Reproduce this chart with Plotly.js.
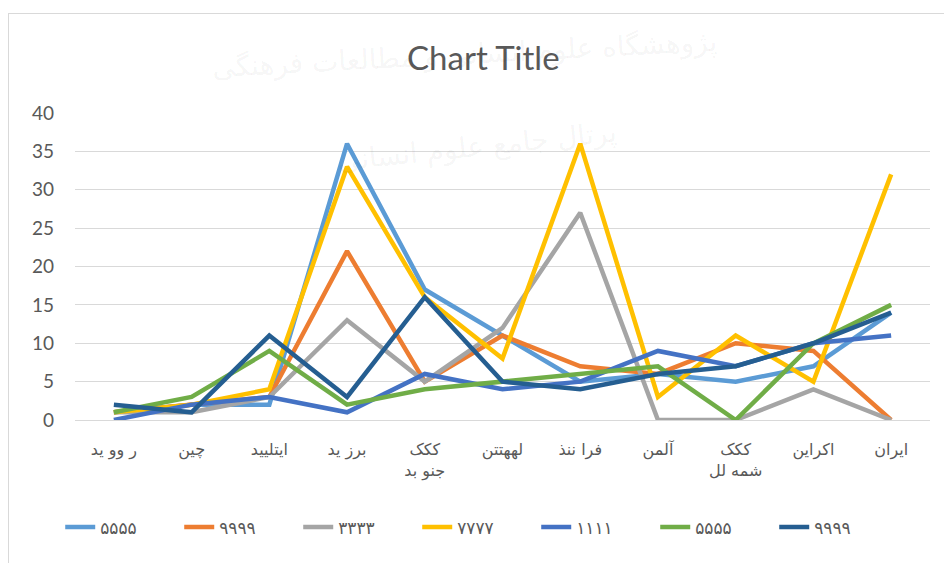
<!DOCTYPE html>
<html>
<head>
<meta charset="utf-8">
<script src="https://cdn.plot.ly/plotly-3.0.1.min.js"></script>
<style>
  html, body { margin: 0; padding: 0; background: #ffffff; }
  #wrap { position: relative; width: 944px; height: 563px; overflow: hidden; }
  #chart { width: 944px; height: 563px; }
  #frame { position: absolute; left: 8px; top: 13px; width: 950px; height: 560px;
           border: 1px solid #D9D9D9; pointer-events: none; box-sizing: border-box; }
</style>
</head>
<body>
<div id="wrap">
  <div id="chart"></div>
  <div id="frame"></div>
</div>
<script>
// Categories (x-axis labels, as shown in the reference)
const categories = [
  "ر وو ید",
  "چین",
  "ایتلیید",
  "برز ید",
  "ککک<br>جنو بد",
  "لهھتتن",
  "فرا ننذ",
  "آلمن",
  "ککک<br>شمه لل",
  "اکراین",
  "ایران"
];

// Series names (legend)
const seriesNames = ["۵۵۵۵", "۹۹۹۹", "۳۳۳۳", "۷۷۷۷", "۱۱۱۱", "۵۵۵۵", "۹۹۹۹"];

// Series values
const s1 = [1, 2, 2, 36, 17, 11, 5, 6, 5, 7, 14];    // light blue
const s2 = [1, 2, 3, 22, 5, 11, 7, 6, 10, 9, 0];     // orange
const s3 = [1, 1, 3, 13, 5, 12, 27, 0, 0, 4, 0];     // grey
const s4 = [1, 2, 4, 33, 16, 8, 36, 3, 11, 5, 32];   // yellow
const s5 = [0, 2, 3, 1, 6, 4, 5, 9, 7, 10, 11];      // blue
const s6 = [1, 3, 9, 2, 4, 5, 6, 7, 0, 10, 15];      // green
const s7 = [2, 1, 11, 3, 16, 5, 4, 6, 7, 10, 14];    // dark blue

const seriesValues = [s1, s2, s3, s4, s5, s6, s7];
const seriesColors = ["#5B9BD5", "#ED7D31", "#A5A5A5", "#FFC000", "#4472C4", "#70AD47", "#255E91"];

// Faint watermark texts seen behind the reference chart
const watermarkTexts = ["پژوهشگاه علوم انسانی و مطالعات فرهنگی", "پرتال جامع علوم انسانی"];

const traces = seriesValues.map((vals, i) => ({
  type: "scatter",
  mode: "lines",
  x: categories,
  y: vals,
  name: seriesNames[i],
  line: { color: seriesColors[i], width: 4.5, shape: "linear" },
  hoverinfo: "x+y+name"
}));

const layout = {
  width: 944,
  height: 563,
  paper_bgcolor: "#ffffff",
  plot_bgcolor: "#ffffff",
  margin: { l: 75, r: 14, t: 113, b: 143 },
  font: { family: "Lato, 'DejaVu Sans', sans-serif", color: "#595959", size: 16 },
  title: {
    text: "Chart Title",
    font: { family: "Lato, 'DejaVu Sans', sans-serif", size: 33, color: "#595959" },
    xref: "container", yref: "container",
    x: 0.512, xanchor: "center",
    y: 0.897, yanchor: "middle"
  },
  xaxis: {
    type: "category",
    categoryorder: "array",
    categoryarray: categories,
    range: [-0.5, 10.5],
    showgrid: false,
    zeroline: false,
    showline: false,
    ticks: "",
    tickangle: 0,
    ticklabelstandoff: 18,
    tickfont: { family: "'DejaVu Sans', sans-serif", size: 16, color: "#595959" },
    fixedrange: true
  },
  yaxis: {
    range: [0, 40],
    dtick: 5,
    tick0: 0,
    showgrid: true,
    gridcolor: "#D9D9D9",
    gridwidth: 1,
    zeroline: true,
    zerolinecolor: "#D9D9D9",
    zerolinewidth: 1,
    showline: false,
    ticks: "",
    ticklabelstandoff: 20,
    tickfont: { family: "Lato, 'DejaVu Sans', sans-serif", size: 19, color: "#595959" },
    fixedrange: true
  },
  showlegend: true,
  legend: {
    orientation: "h",
    xref: "container", yref: "container",
    x: 0.505, xanchor: "center",
    y: 0.063, yanchor: "middle",
    font: { family: "'DejaVu Sans', sans-serif", size: 17, color: "#595959" },
    entrywidth: 74,
    entrywidthmode: "pixels",
    traceorder: "normal",
    bgcolor: "rgba(0,0,0,0)"
  },
  annotations: [
    {
      text: watermarkTexts[0],
      xref: "paper", yref: "paper",
      x: 0.455, y: 1.19, xanchor: "center", yanchor: "middle",
      showarrow: false, textangle: -3,
      font: { family: "'DejaVu Sans', sans-serif", size: 28, color: "rgba(0,0,0,0.05)" }
    },
    {
      text: watermarkTexts[1],
      xref: "paper", yref: "paper",
      x: 0.47, y: 0.89, xanchor: "center", yanchor: "middle",
      showarrow: false, textangle: -6,
      font: { family: "'DejaVu Sans', sans-serif", size: 28, color: "rgba(0,0,0,0.05)" }
    }
  ]
};

Plotly.newPlot("chart", traces, layout, { displayModeBar: false, staticPlot: true });
</script>
</body>
</html>
